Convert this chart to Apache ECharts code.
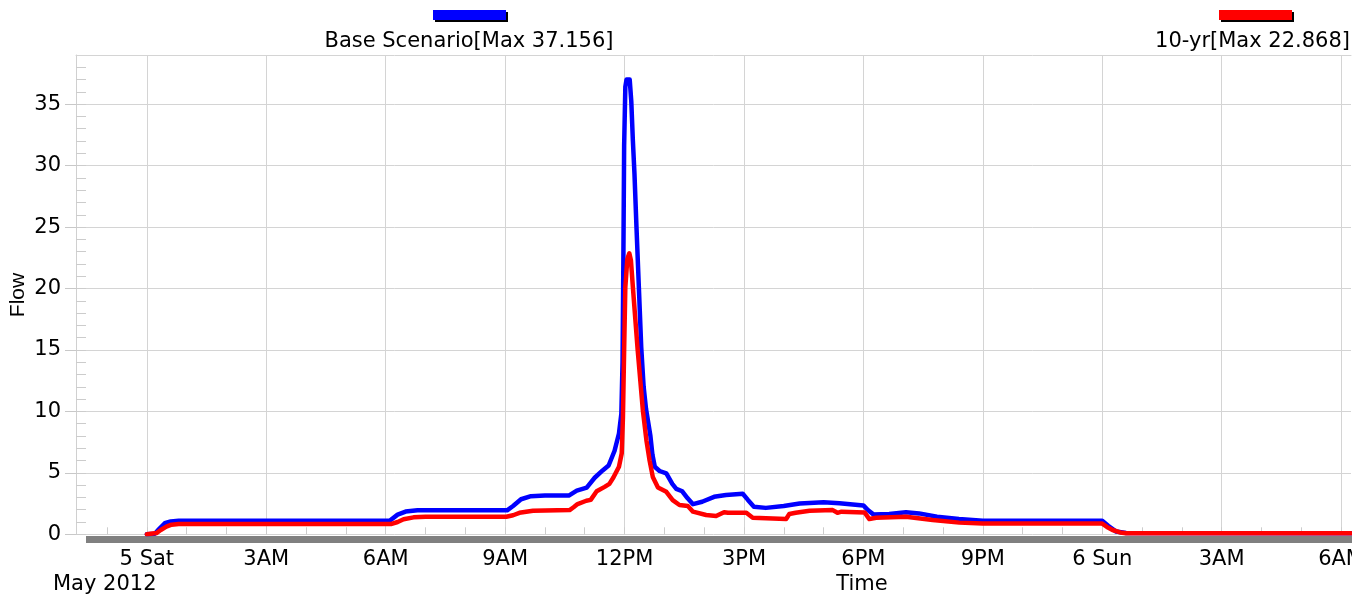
<!DOCTYPE html>
<html>
<head>
<meta charset="utf-8">
<script src="https://cdn.jsdelivr.net/npm/echarts@6/dist/echarts.min.js"></script>
<style>
html,body{margin:0;padding:0;background:#fff;}
#chart{width:1352px;height:595px;}
</style>
</head>
<body>
<div id="chart"></div>
<script>
// ---- data (x = hours after 00:00, Sat 5 May 2012) ----
const tickHours = [0, 3, 6, 9, 12, 15, 18, 21, 24, 27, 30];
const tickLabels = ['5 Sat', '3AM', '6AM', '9AM', '12PM', '3PM', '6PM', '9PM', '6 Sun', '3AM', '6AM'];
const yTicks = [0, 5, 10, 15, 20, 25, 30, 35];

const baseTimes = [0, 0.2, 0.3, 0.45, 0.6, 0.8, 6.1, 6.3, 6.5, 6.8, 9.05, 9.2, 9.4, 9.65, 10.0, 10.6, 10.8, 11.05, 11.25, 11.45, 11.6, 11.75, 11.86, 11.92, 11.95, 11.97, 11.99, 12.02, 12.05, 12.09, 12.13, 12.17, 12.21, 12.25, 12.3, 12.36, 12.42, 12.48, 12.54, 12.6, 12.65, 12.7, 12.76, 12.88, 13.05, 13.2, 13.3, 13.45, 13.58, 13.72, 13.95, 14.25, 14.55, 14.97, 15.1, 15.25, 15.55, 16.0, 16.4, 17.0, 17.4, 18.0, 18.12, 18.25, 18.65, 19.07, 19.4, 19.85, 20.4, 21.0, 24.0, 24.15, 24.35, 24.6, 30.25];
const baseFlow = [0, 0.05, 0.4, 0.9, 1.05, 1.1, 1.1, 1.6, 1.85, 1.95, 1.95, 2.3, 2.85, 3.1, 3.15, 3.15, 3.55, 3.8, 4.6, 5.2, 5.6, 6.8, 8.2, 9.8, 14.0, 22.0, 31.6, 36.4, 37.0, 37.156, 37.0, 35.2, 32.0, 29.3, 25.0, 20.1, 15.2, 12.0, 10.2, 9.0, 8.0, 6.5, 5.5, 5.15, 4.95, 4.1, 3.7, 3.5, 2.95, 2.45, 2.65, 3.05, 3.2, 3.3, 2.8, 2.25, 2.15, 2.3, 2.5, 2.6, 2.52, 2.35, 1.95, 1.62, 1.65, 1.8, 1.7, 1.43, 1.24, 1.1, 1.1, 0.7, 0.22, 0.1, 0.08];

const tenYrTimes = [0, 0.05, 0.24, 0.35, 0.49, 0.62, 0.8, 6.15, 6.3, 6.45, 6.7, 7.0, 9.03, 9.2, 9.36, 9.7, 10.62, 10.72, 10.82, 11.04, 11.15, 11.3, 11.5, 11.62, 11.72, 11.86, 11.93, 11.96, 11.99, 12.02, 12.07, 12.12, 12.16, 12.21, 12.33, 12.46, 12.55, 12.63, 12.71, 12.84, 13.05, 13.21, 13.38, 13.59, 13.72, 14.05, 14.3, 14.5, 14.6, 15.06, 15.22, 16.06, 16.14, 16.3, 16.65, 17.23, 17.35, 17.45, 18.03, 18.15, 18.32, 19.07, 19.74, 20.41, 21.0, 24.0, 24.12, 24.26, 24.45, 24.6, 30.25];
const tenYrFlow = [0, 0.08, 0.1, 0.35, 0.62, 0.78, 0.84, 0.84, 1.0, 1.22, 1.38, 1.43, 1.43, 1.55, 1.75, 1.92, 1.97, 2.2, 2.46, 2.73, 2.8, 3.5, 3.86, 4.1, 4.62, 5.5, 6.6, 9.5, 15.0, 20.1, 22.4, 22.868, 22.3, 20.1, 15.0, 10.1, 7.65, 6.0, 4.67, 3.81, 3.46, 2.78, 2.38, 2.3, 1.84, 1.57, 1.49, 1.8, 1.76, 1.75, 1.35, 1.24, 1.65, 1.75, 1.92, 1.97, 1.75, 1.84, 1.78, 1.24, 1.35, 1.43, 1.16, 0.95, 0.87, 0.87, 0.6, 0.35, 0.15, 0.08, 0.08];

const seriesNames = ['Base Scenario', '10-yr'];
const seriesMax = [37.156, 22.868];
const seriesColors = ['#0000ff', '#ff0000'];
const yTitle = 'Flow';
const xTitle = 'Time';
const dateLabel = 'May 2012';

// ---- build ----
const X_MIN = -1.78, X_MAX = 30.25, Y_MIN = 0, Y_MAX = 39;
const hourTicks = [];
for (let h = -1; h <= 30; h++) hourTicks.push(h);
const unitTicks = [];
for (let v = 0; v <= 38; v++) unitTicks.push(v);

const FONT = 'DejaVu Sans';
const GRID_COLOR = '#d4d4d4';
const TEXT = '#000';

function zip(xs, ys) { return xs.map((x, i) => [x, ys[i]]); }

const chart = echarts.init(document.getElementById('chart'), null, {renderer: 'canvas'});
const option = {
  animation: false,
  backgroundColor: '#fff',
  grid: {left: 76, right: 1, top: 55, bottom: 60.7, containLabel: false, outerBoundsMode: 'none'},
  xAxis: [
    {
      type: 'value', min: X_MIN, max: X_MAX, position: 'bottom',
      axisLine: {show: false, onZero: false},
      axisTick: {show: false, customValues: tickHours},
      axisLabel: {
        customValues: tickHours, margin: 15,
        fontFamily: FONT, fontSize: 21, color: TEXT,
        formatter: function (v) {
          const i = tickHours.indexOf(Math.round(v));
          return i >= 0 ? tickLabels[i] : '';
        }
      },
      splitLine: {show: true, lineStyle: {color: GRID_COLOR, width: 1}}
    },
    {
      type: 'value', min: X_MIN, max: X_MAX, position: 'bottom',
      axisLine: {show: false, onZero: false},
      axisTick: {show: true, inside: true, length: 7, customValues: hourTicks, lineStyle: {color: '#cccccc'}},
      axisLabel: {show: false},
      splitLine: {show: false}
    },
    {
      type: 'value', min: X_MIN, max: X_MAX, position: 'top',
      axisLine: {show: true, onZero: false, lineStyle: {color: GRID_COLOR}},
      axisTick: {show: false}, axisLabel: {show: false}, splitLine: {show: false}
    }
  ],
  yAxis: [
    {
      type: 'value', min: Y_MIN, max: Y_MAX, position: 'left',
      axisLine: {show: true, onZero: false, lineStyle: {color: '#d0d0d0'}},
      axisTick: {show: true, length: 11, customValues: yTicks, lineStyle: {color: '#c8c8c8'}},
      axisLabel: {customValues: yTicks, margin: 15, fontFamily: FONT, fontSize: 21, color: TEXT},
      splitLine: {show: true, lineStyle: {color: GRID_COLOR, width: 1}}
    },
    {
      type: 'value', min: Y_MIN, max: Y_MAX, position: 'left',
      axisLine: {show: false, onZero: false},
      axisTick: {show: true, inside: true, length: 10, customValues: unitTicks, lineStyle: {color: '#cccccc'}},
      axisLabel: {show: false}, splitLine: {show: false}
    }
  ],
  series: [
    {
      name: seriesNames[0], type: 'line', xAxisIndex: 0, yAxisIndex: 0,
      data: zip(baseTimes, baseFlow), showSymbol: false, symbol: 'none',
      lineStyle: {color: seriesColors[0], width: 4.5, join: 'round', cap: 'round'}, z: 3
    },
    {
      name: seriesNames[1], type: 'line', xAxisIndex: 0, yAxisIndex: 0,
      data: zip(tenYrTimes, tenYrFlow), showSymbol: false, symbol: 'none',
      lineStyle: {color: seriesColors[1], width: 4.5, join: 'round', cap: 'round'}, z: 4
    }
  ],
  graphic: [
    // bottom gray bar
    {type: 'rect', shape: {x: 86, y: 536, width: 1266, height: 7}, style: {fill: '#808080'}, z: 1},
    // legend 1
    {type: 'rect', shape: {x: 435, y: 12, width: 73, height: 10}, style: {fill: '#000'}},
    {type: 'rect', shape: {x: 433, y: 10, width: 73, height: 10}, style: {fill: seriesColors[0]}},
    {type: 'text', x: 469, y: 42, style: {text: seriesNames[0] + '[Max ' + seriesMax[0].toFixed(3) + ']', font: '21px "DejaVu Sans"', fill: TEXT, align: 'center', verticalAlign: 'middle'}},
    // legend 2
    {type: 'rect', shape: {x: 1221, y: 12, width: 73, height: 10}, style: {fill: '#000'}},
    {type: 'rect', shape: {x: 1219, y: 10, width: 73, height: 10}, style: {fill: seriesColors[1]}},
    {type: 'text', x: 1350, y: 42, style: {text: seriesNames[1] + '[Max ' + seriesMax[1].toFixed(3) + ']', font: '21px "DejaVu Sans"', fill: TEXT, align: 'right', verticalAlign: 'middle'}},
    // axis texts
    {type: 'text', x: 18, y: 295, rotation: Math.PI / 2, style: {text: yTitle, font: '21px "Liberation Sans"', fill: TEXT, align: 'center', verticalAlign: 'middle'}},
    {type: 'text', x: 862, y: 585, style: {text: xTitle, font: '21px "DejaVu Sans"', fill: TEXT, align: 'center', verticalAlign: 'middle'}},
    {type: 'text', x: 53, y: 585, style: {text: dateLabel, font: '21px "DejaVu Sans"', fill: TEXT, align: 'left', verticalAlign: 'middle'}}
  ]
};
chart.setOption(option);
</script>
</body>
</html>
